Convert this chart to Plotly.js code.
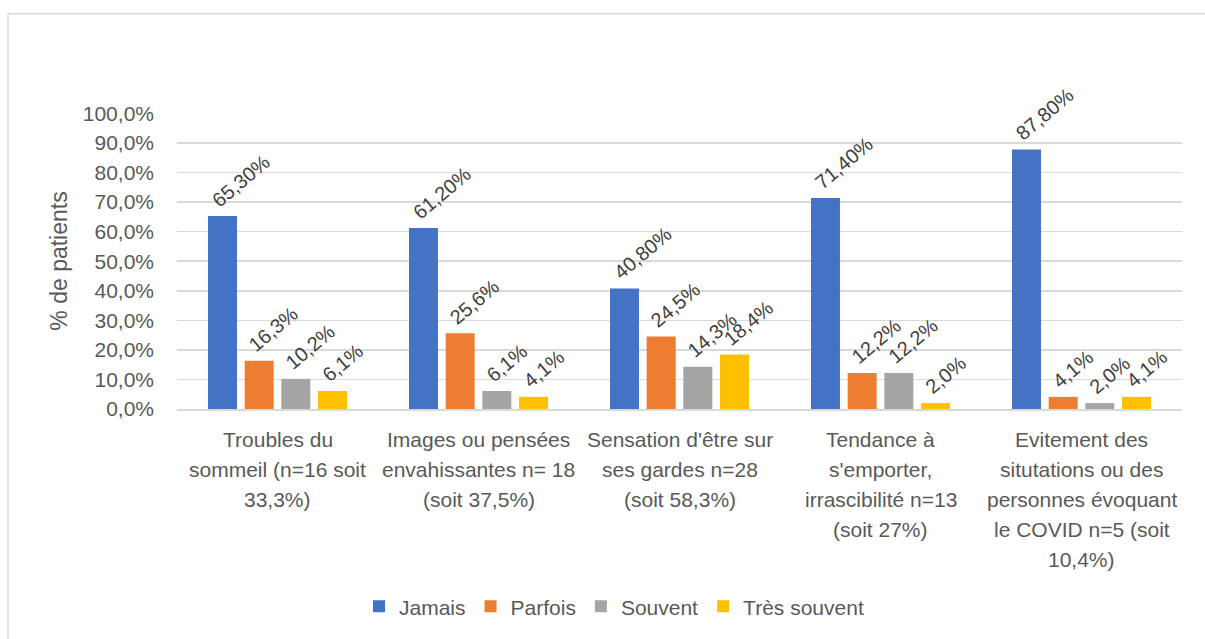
<!DOCTYPE html>
<html>
<head>
<meta charset="utf-8">
<script src="https://cdn.plot.ly/plotly-3.0.1.min.js"></script>
<style>html,body{margin:0;padding:0;background:#fff;}#chart{width:1205px;height:639px;}</style>
</head>
<body>
<div id="chart"></div>
<script>
const categories = [
  "Troubles du<br>sommeil (n=16 soit<br>33,3%)",
  "Images ou pensées<br>envahissantes n= 18<br>(soit 37,5%)",
  "Sensation d'être sur<br>ses gardes n=28<br>(soit 58,3%)",
  "Tendance à<br>s'emporter,<br>irrascibilité n=13<br>(soit 27%)",
  "Evitement des<br>situtations ou des<br>personnes évoquant<br>le COVID n=5 (soit<br>10,4%)"
];
const seriesNames = ["Jamais", "Parfois", "Souvent", "Très souvent"];
const jamais = [0.653, 0.612, 0.408, 0.714, 0.878];
const parfois = [0.163, 0.256, 0.245, 0.122, 0.041];
const souvent = [0.102, 0.061, 0.143, 0.122, 0.020];
const tresSouvent = [0.061, 0.041, 0.184, 0.020, 0.041];
const jamaisLabels = ["65,30%", "61,20%", "40,80%", "71,40%", "87,80%"];
const parfoisLabels = ["16,3%", "25,6%", "24,5%", "12,2%", "4,1%"];
const souventLabels = ["10,2%", "6,1%", "14,3%", "12,2%", "2,0%"];
const tresSouventLabels = ["6,1%", "4,1%", "18,4%", "2,0%", "4,1%"];
const yTickVals = [0, 0.1, 0.2, 0.3, 0.4, 0.5, 0.6, 0.7, 0.8, 0.9, 1.0];

const colors = ["#4472C4", "#ED7D31", "#A5A5A5", "#FFC000"];
const values = [jamais, parfois, souvent, tresSouvent];
const labels = [jamaisLabels, parfoisLabels, souventLabels, tresSouventLabels];

const W = 1205, H = 639;
const margin = {l: 177, r: 23, t: 113, b: 228};
const plotW = W - margin.l - margin.r;
const plotH = H - margin.t - margin.b;
const bargap = 0.27, bargroupgap = 0.21;
const catW = plotW / categories.length;
const groupW = catW * (1 - bargap);
const slot = groupW / seriesNames.length;
const textColor = "#595959";
const font = "Liberation Sans, Arial, sans-serif";

const traces = seriesNames.map((name, i) => ({
  type: "bar",
  name: name,
  x: categories,
  y: values[i],
  marker: {color: colors[i]},
  hoverinfo: "none"
}));

const annotations = [];
// data labels
seriesNames.forEach((name, i) => {
  const leftOffset = -groupW / 2 + i * slot + slot * bargroupgap / 2;
  categories.forEach((c, j) => {
    annotations.push({
      x: c, y: values[i][j], xref: "x", yref: "y",
      text: labels[i][j], showarrow: false, textangle: -40,
      xanchor: "left", yanchor: "bottom",
      xshift: leftOffset - 3, yshift: 2,
      font: {family: font, size: 20, color: "#404040"}
    });
  });
});
// category labels (one annotation per line for Excel-like line spacing)
categories.forEach((c) => {
  c.split("<br>").forEach((line, k) => {
    annotations.push({
      x: c, y: 0, xref: "x", yref: "y",
      text: line, showarrow: false,
      xanchor: "center", yanchor: "middle",
      yshift: -(30 + 30 * k),
      font: {family: font, size: 21, color: textColor}
    });
  });
});

const layout = {
  width: W, height: H,
  margin: margin,
  paper_bgcolor: "#ffffff",
  plot_bgcolor: "#ffffff",
  separators: ", ",
  barmode: "group",
  bargap: bargap,
  bargroupgap: bargroupgap,
  font: {family: font, color: textColor},
  showlegend: true,
  legend: {
    orientation: "h", x: (614 - margin.l) / plotW, xanchor: "center",
    y: (0 - (610 - (H - margin.b))) / plotH, yanchor: "middle",
    font: {family: font, size: 21, color: textColor},
    itemwidth: 30, traceorder: "normal"
  },
  xaxis: {
    type: "category",
    showticklabels: false,
    showgrid: false,
    showline: true, linecolor: "#D9D9D9", linewidth: 1.5,
    ticks: "", fixedrange: true
  },
  yaxis: {
    range: [0, 1.0015],
    tickvals: yTickVals,
    tickformat: ".1%",
    showgrid: true, gridcolor: "#D9D9D9", gridwidth: 1.5,
    zeroline: false, showline: false,
    ticks: "", ticklabelstandoff: 22,
    tickfont: {family: font, size: 21, color: textColor},
    title: {text: "% de patients", standoff: 8, font: {family: font, size: 23, color: textColor}},
    fixedrange: true
  },
  annotations: annotations,
  shapes: [{
    type: "rect", xref: "paper", yref: "paper",
    x0: (8 - margin.l) / plotW, x1: 1.05,
    y0: -1.0, y1: (H - margin.b - 13) / plotH,
    line: {color: "#D9D9D9", width: 1.5}, fillcolor: "rgba(0,0,0,0)", layer: "below"
  }]
};

Plotly.newPlot("chart", traces, layout, {displayModeBar: false, staticPlot: true});
</script>
</body>
</html>
